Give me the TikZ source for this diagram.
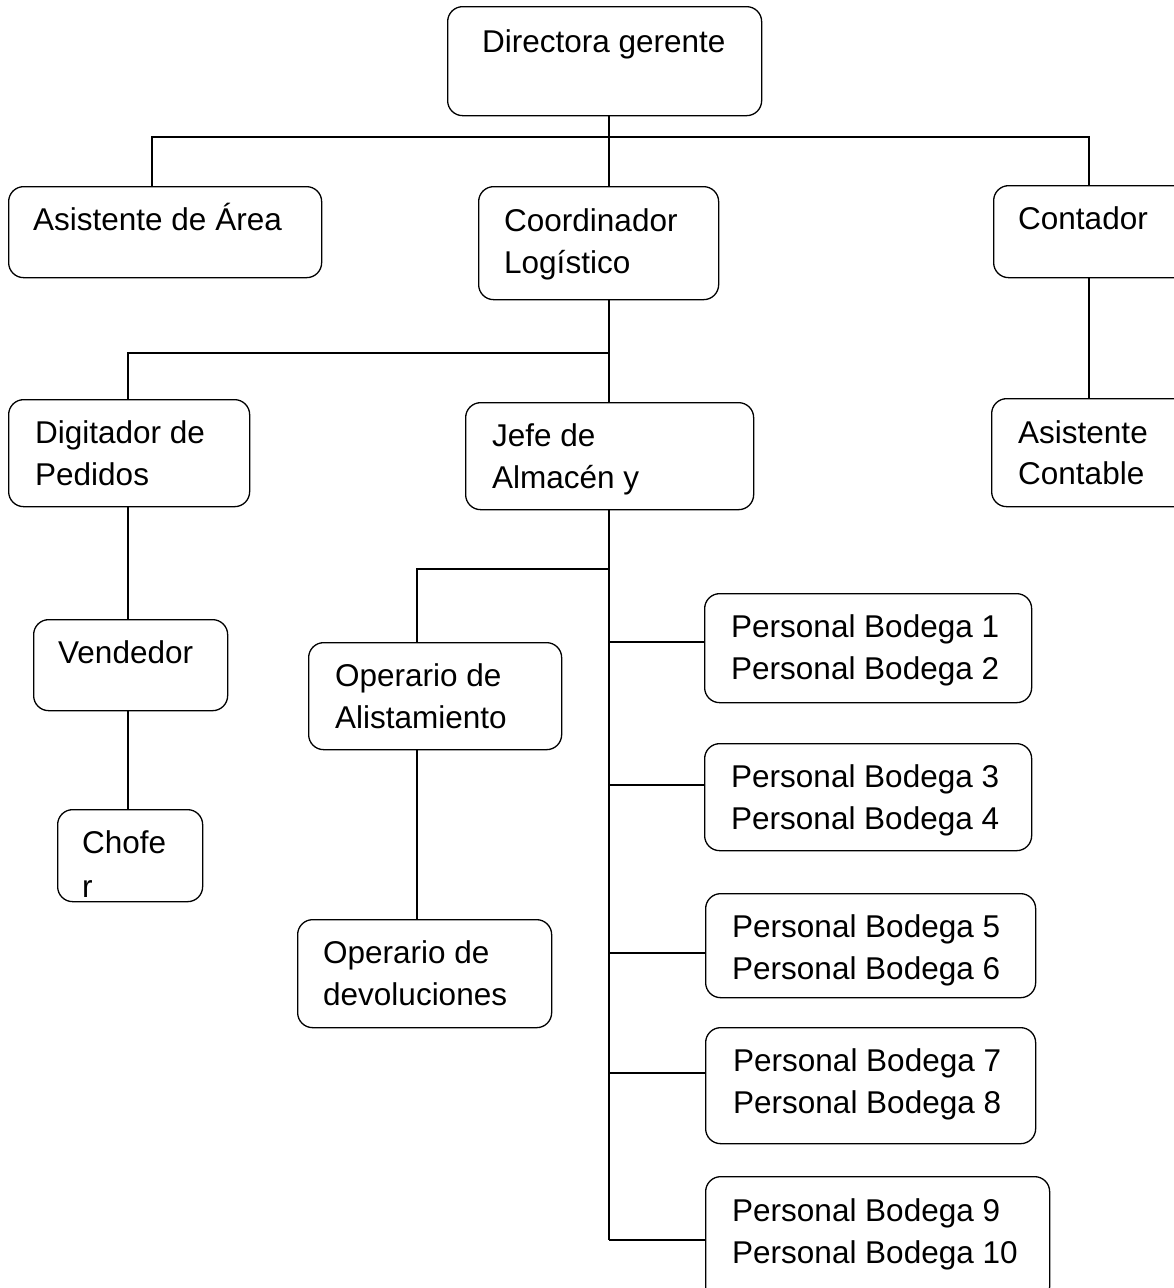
\documentclass[tikz,border=0pt]{standalone}
\usepackage{fontspec}
\setmainfont{Liberation Sans}
\begin{document}
\begin{tikzpicture}[x=1pt,y=-1pt,
  box/.style={draw, rounded corners=15pt, line width=1.3pt, inner sep=0pt, anchor=north west},
  lbl/.style={anchor=base west, inner sep=0pt, font=\fontsize{31.5}{42}\selectfont},
  conn/.style={line width=1.3pt}]
\useasboundingbox (0,0) rectangle (1174,1288);
% boxes
\node[box, minimum width=314pt, minimum height=109pt] (dir) at (447,6) {};
\node[box, minimum width=313pt, minimum height=91pt] (asis) at (8,186) {};
\node[box, minimum width=240pt, minimum height=113pt] (coo) at (478,186) {};
\node[box, minimum width=200pt, minimum height=92pt] (cont) at (993,185) {};
\node[box, minimum width=241pt, minimum height=107pt] (dig) at (8,399) {};
\node[box, minimum width=288pt, minimum height=107pt] (jefe) at (465,402) {};
\node[box, minimum width=200pt, minimum height=108pt] (ac) at (991,398) {};
\node[box, minimum width=194pt, minimum height=91pt] (vend) at (33,619) {};
\node[box, minimum width=145pt, minimum height=92pt] (chof) at (57,809) {};
\node[box, minimum width=253pt, minimum height=107pt] (opa) at (308,642) {};
\node[box, minimum width=254pt, minimum height=108pt] (opd) at (297,919) {};
\node[box, minimum width=327pt, minimum height=109pt] (pb1) at (704,593) {};
\node[box, minimum width=327pt, minimum height=107pt] (pb3) at (704,743) {};
\node[box, minimum width=330pt, minimum height=104pt] (pb5) at (705,893) {};
\node[box, minimum width=330pt, minimum height=116pt] (pb7) at (705,1027) {};
\node[box, minimum width=344pt, minimum height=125pt] (pb9) at (705,1176) {};
% texts
\node[lbl] (t-dir) at (482,52) {Directora gerente};
\node[lbl] (t-asis) at (33,230) {Asistente de Área};
\node[lbl] (t-coo1) at (504,231) {Coordinador};
\node[lbl] (t-coo2) at (504,273) {Logístico};
\node[lbl] (t-cont) at (1018,229) {Contador};
\node[lbl] (t-dig1) at (35,443) {Digitador de};
\node[lbl] (t-dig2) at (35,485) {Pedidos};
\node[lbl] (t-jefe1) at (492,446) {Jefe de};
\node[lbl] (t-jefe2) at (492,488) {Almacén y};
\node[lbl] (t-ac1) at (1018,443) {Asistente};
\node[lbl] (t-ac2) at (1018,484) {Contable};
\node[lbl] (t-vend) at (58,663) {Vendedor};
\node[lbl] (t-chof1) at (82,853) {Chofe};
\node[lbl] (t-chof2) at (82,897) {r};
\node[lbl] (t-opa1) at (335,686) {Operario de};
\node[lbl] (t-opa2) at (335,728) {Alistamiento};
\node[lbl] (t-opd1) at (323,963) {Operario de};
\node[lbl] (t-opd2) at (323,1005) {devoluciones};
\node[lbl] (t-pb1) at (731,637) {Personal Bodega 1};
\node[lbl] (t-pb2) at (731,679) {Personal Bodega 2};
\node[lbl] (t-pb3) at (731,787) {Personal Bodega 3};
\node[lbl] (t-pb4) at (731,829) {Personal Bodega 4};
\node[lbl] (t-pb5) at (732,937) {Personal Bodega 5};
\node[lbl] (t-pb6) at (732,979) {Personal Bodega 6};
\node[lbl] (t-pb7) at (733,1071) {Personal Bodega 7};
\node[lbl] (t-pb8) at (733,1113) {Personal Bodega 8};
\node[lbl] (t-pb9) at (732,1221) {Personal Bodega 9};
\node[lbl] (t-pb10) at (732,1263) {Personal Bodega 10};
% bus coordinates
\coordinate (tc) at (609,137);
\coordinate (tl) at (152,137);
\coordinate (tr) at (1089,137);
\coordinate (mc) at (609,353);
\coordinate (ml) at (128,353);
\coordinate (jb) at (609,569);
\coordinate (ol) at (417,569);
\coordinate (je) at (609,1240);
% connectors
\draw[conn] (tc |- dir.south) -- (tc |- coo.north);
\draw[conn] (tl |- asis.north) -- (tl) -- (tr) -- (tr |- cont.north);
\draw[conn] (tr |- cont.south) -- (tr |- ac.north);
\draw[conn] (mc |- coo.south) -- (mc |- jefe.north);
\draw[conn] (ml |- dig.north) -- (ml) -- (mc);
\draw[conn] (ml |- dig.south) -- (ml |- vend.north);
\draw[conn] (ml |- vend.south) -- (ml |- chof.north);
\draw[conn] (jb |- jefe.south) -- (je);
\draw[conn] (ol |- opa.north) -- (ol) -- (jb);
\draw[conn] (ol |- opa.south) -- (ol |- opd.north);
\draw[conn] (609,642) -- (pb1.west |- 0,642);
\draw[conn] (609,785) -- (pb3.west |- 0,785);
\draw[conn] (609,953) -- (pb5.west |- 0,953);
\draw[conn] (609,1073) -- (pb7.west |- 0,1073);
\draw[conn] (je) -- (pb9.west |- je);
\end{tikzpicture}
\end{document}
